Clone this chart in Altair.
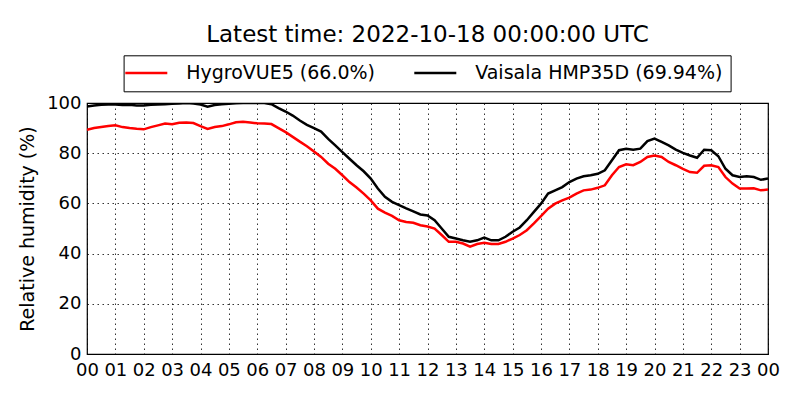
import altair as alt
import pandas as pd

hours = [i * 0.25 for i in range(97)]

hygrovue5 = [
    89.3, 90.0, 90.4, 90.8, 91.1, 90.4, 90.0, 89.7, 89.5, 90.4, 91.1, 91.8,
    91.5, 92.1, 92.2, 92.0, 90.8, 89.7, 90.4, 90.8, 91.5, 92.3, 92.5, 92.2,
    91.9, 91.8, 91.6, 90.0, 88.4, 86.5, 84.6, 82.8, 80.7, 78.5, 75.8, 73.8,
    71.2, 68.5, 66.3, 63.9, 61.2, 57.9, 56.3, 55.0, 53.3, 52.6, 52.3, 51.3,
    50.8, 50.0, 47.4, 44.7, 44.7, 44.0, 42.8, 43.8, 44.3, 43.8, 43.8, 44.7,
    46.0, 47.4, 49.3, 52.0, 54.9, 57.9, 59.9, 61.2, 62.3, 63.9, 65.2, 65.5,
    66.2, 67.2, 71.2, 74.5, 75.6, 75.2, 76.5, 78.5, 79.1, 78.5, 76.5, 75.2,
    73.8, 72.5, 72.2, 75.0, 75.2, 74.5, 70.5, 67.9, 65.9, 65.9, 66.0, 65.2,
    65.5,
]

hmp35d = [
    98.6, 99.0, 99.3, 99.4, 99.4, 99.2, 99.3, 99.0, 99.0, 99.3, 99.4, 99.5,
    99.7, 99.8, 100.0, 99.8, 99.4, 98.5, 99.2, 99.5, 99.7, 99.9, 100.0, 100.0,
    100.0, 100.0, 99.5, 98.0, 96.6, 95.0, 93.0, 91.3, 90.0, 88.6, 85.7, 83.1,
    80.4, 77.8, 75.2, 72.8, 69.9, 65.9, 62.6, 60.6, 59.3, 58.0, 56.8, 55.6,
    55.2, 53.3, 50.0, 46.7, 46.0, 45.3, 44.7, 45.3, 46.4, 45.3, 45.3, 46.7,
    48.7, 50.4, 53.3, 56.6, 59.9, 63.9, 65.2, 66.5, 68.5, 69.9, 70.8, 71.2,
    71.8, 73.2, 77.2, 81.2, 81.8, 81.4, 81.8, 84.8, 85.8, 84.5, 83.1, 81.4,
    80.1, 79.1, 78.2, 81.4, 81.2, 78.8, 73.8, 71.2, 70.5, 70.8, 70.5, 69.4,
    69.9,
]

series_names = ["HygroVUE5 (66.0%)", "Vaisala HMP35D (69.94%)"]
series_colors = ["#ff0000", "#000000"]
x_ticks = list(range(25))
y_ticks = [0, 20, 40, 60, 80, 100]

df = pd.concat([
    pd.DataFrame({"hour": hours, "rh": hygrovue5, "series": series_names[0], "order": 0}),
    pd.DataFrame({"hour": hours, "rh": hmp35d, "series": series_names[1], "order": 1}),
], ignore_index=True)

FONT = "DejaVu Sans"

chart = alt.Chart(df).mark_line(strokeWidth=2.5, clip=True).encode(
    x=alt.X("hour:Q",
            scale=alt.Scale(domain=[0, 24], nice=False),
            axis=alt.Axis(values=x_ticks, title="",
                          labelExpr="(datum.value % 24) < 10 ? '0' + (datum.value % 24) : '' + (datum.value % 24)",
                          labelFlush=False, labelOverlap=False, labelPadding=7,
                          labelFontSize=18, labelFont=FONT, labelColor="black",
                          ticks=False, domain=False,
                          grid=True, gridColor="black", gridDash=[1.5, 3.5], gridWidth=0.8)),
    y=alt.Y("rh:Q",
            scale=alt.Scale(domain=[0, 100], nice=False),
            axis=alt.Axis(values=y_ticks, title="Relative humidity (%)",
                          titleFontSize=19, titleFont=FONT, titleFontWeight="normal",
                          titleColor="black", titlePadding=9,
                          labelFontSize=18, labelFont=FONT, labelColor="black",
                          labelPadding=6, ticks=False, domain=False,
                          grid=True, gridColor="black", gridDash=[1.5, 3.5], gridWidth=0.8)),
    color=alt.Color("series:N",
                    scale=alt.Scale(domain=series_names, range=series_colors),
                    legend=alt.Legend(title="", orient="none", legendX=36.6, legendY=-47.7,
                                      direction="horizontal", symbolType="M-4,0H4",
                                      symbolSize=110.25, symbolStrokeWidth=2.5,
                                      symbolOffset=5.2,
                                      labelFontSize=19, labelFont=FONT, labelColor="black",
                                      labelOffset=30.4, columnPadding=33, padding=8,
                                      labelLimit=0,
                                      strokeColor="black", fillColor="white",
                                      cornerRadius=0)),
    order="order:Q",
).properties(
    width=681,
    height=251,
    title=alt.TitleParams("Latest time: 2022-10-18 00:00:00 UTC", fontSize=23, font=FONT,
                          fontWeight="normal", color="black", anchor="middle", offset=7.5),
    autosize=alt.AutoSizeParams(type="none"),
    padding={"left": 79, "top": 95, "right": 24, "bottom": 30},
).configure_view(stroke="black", strokeWidth=1.2)

chart.save("out.html", embed_options={"renderer": "svg", "actions": False})
